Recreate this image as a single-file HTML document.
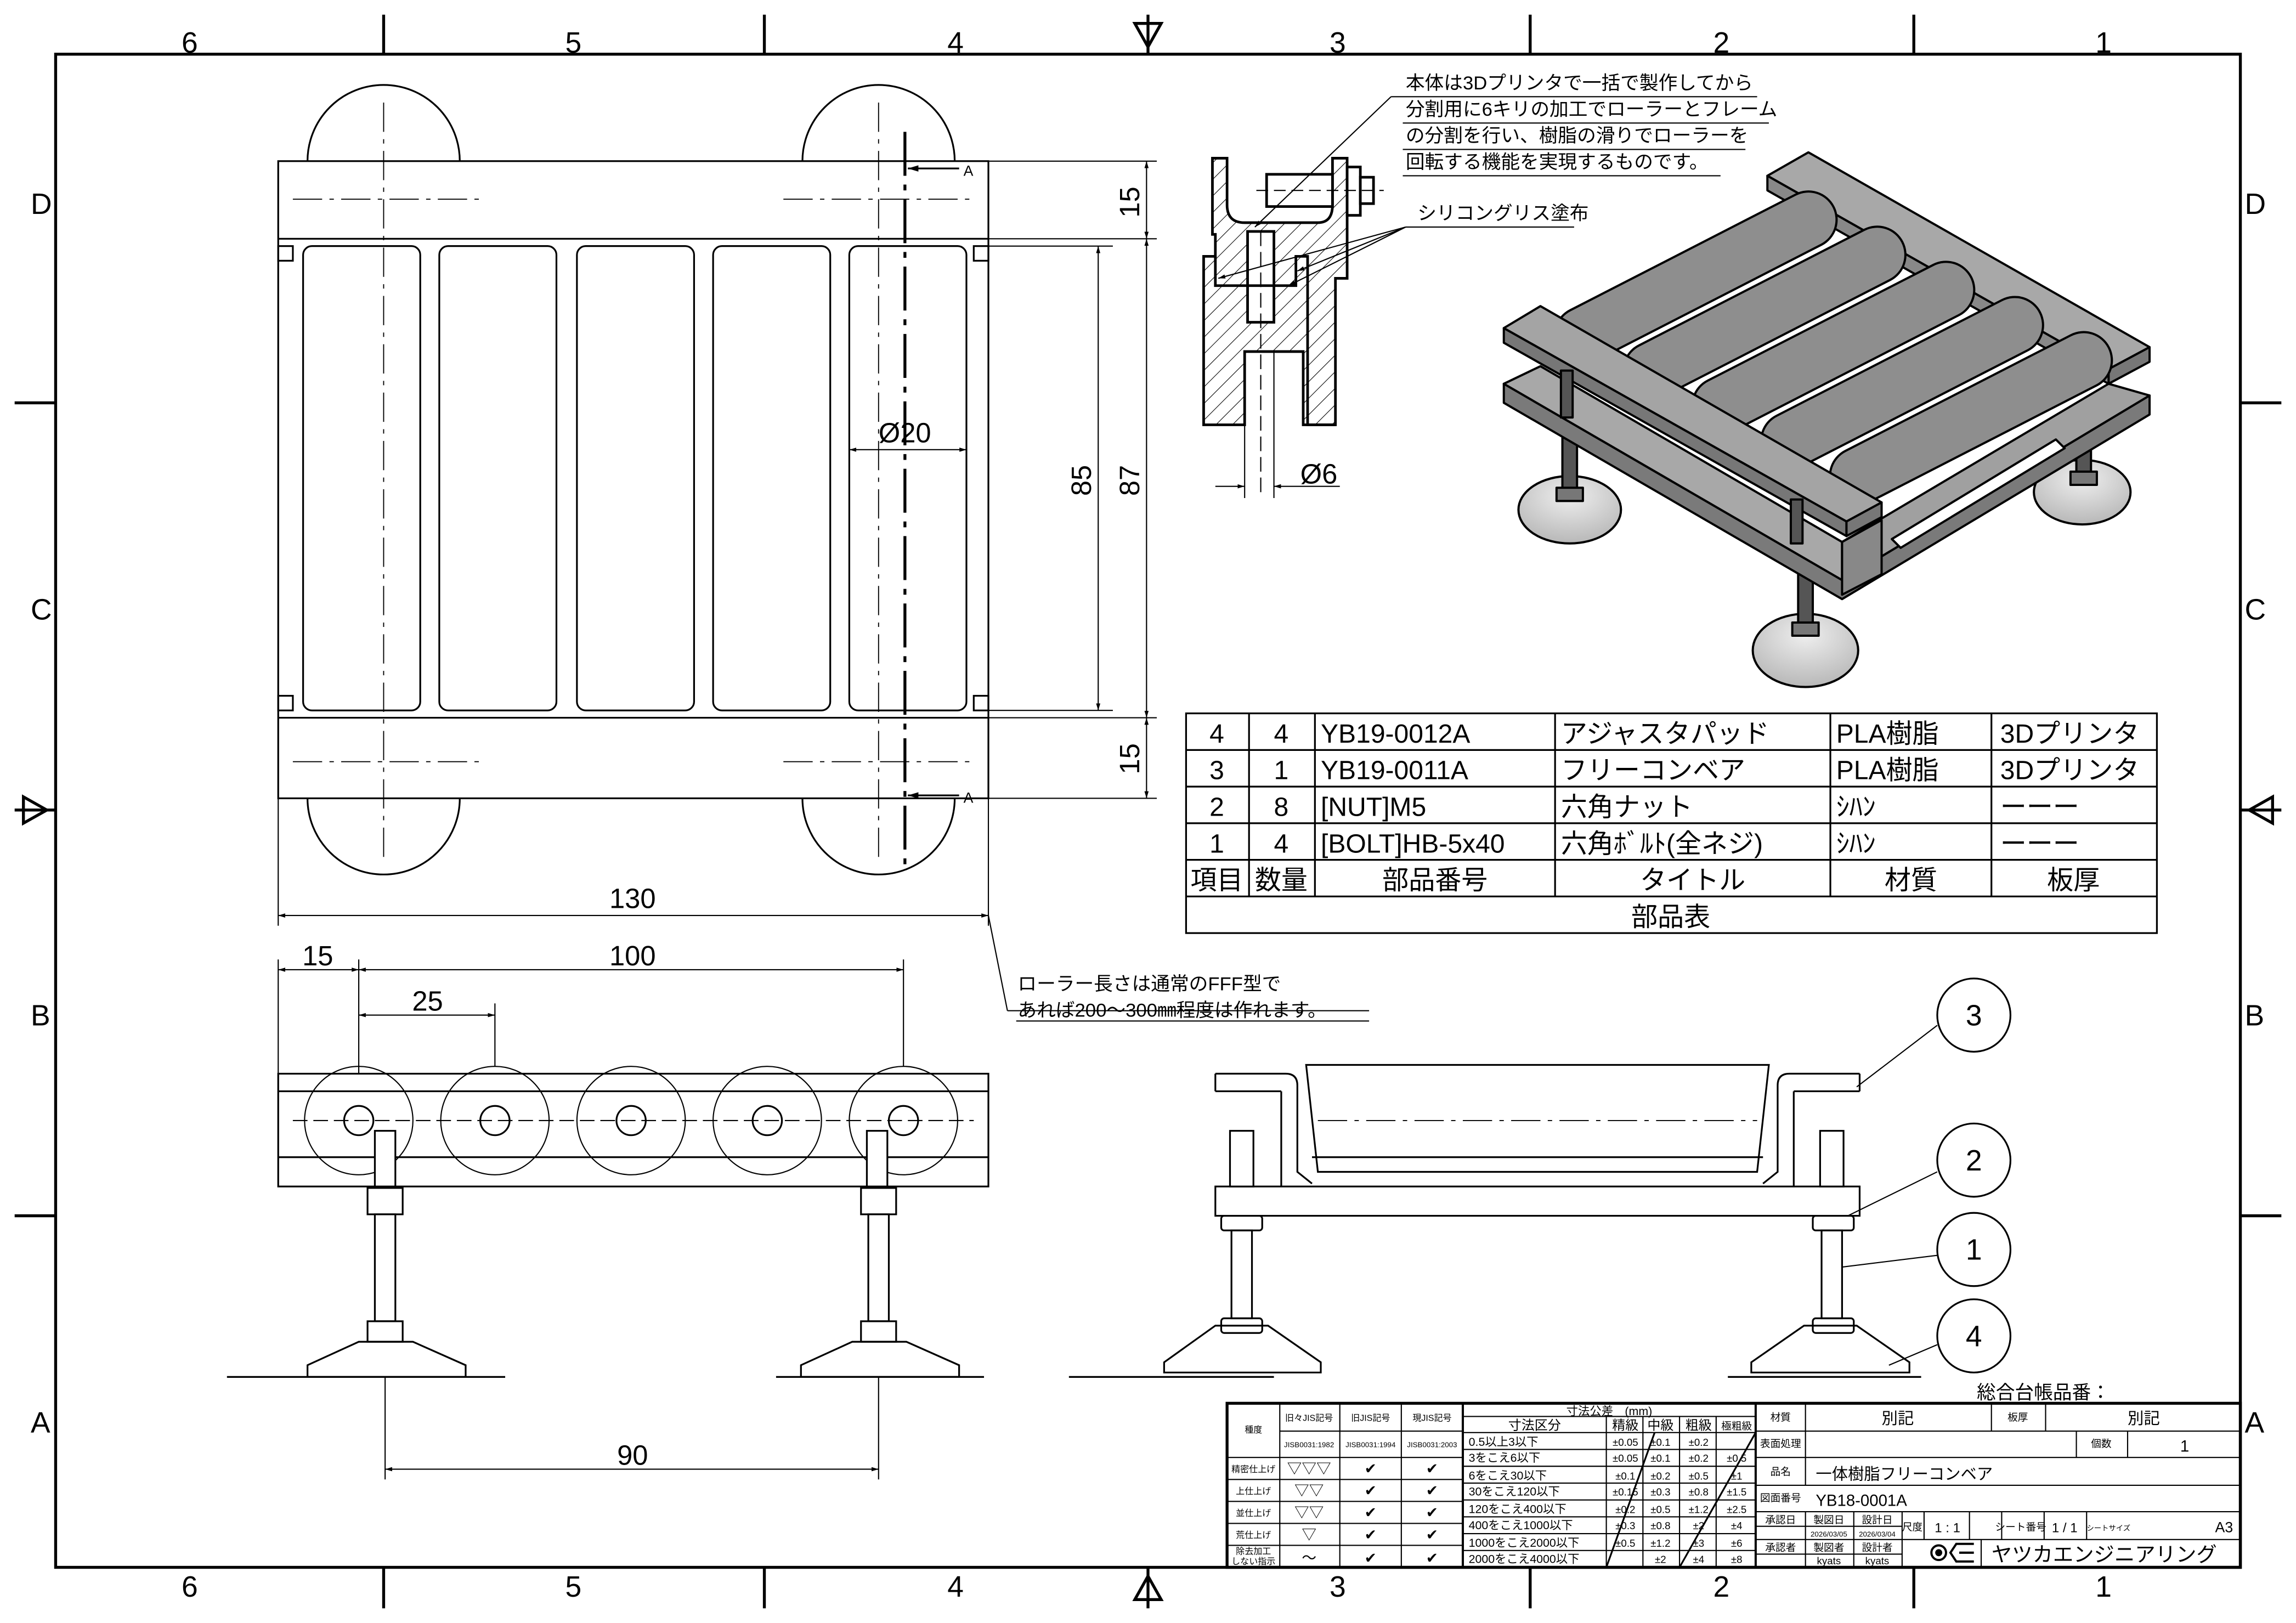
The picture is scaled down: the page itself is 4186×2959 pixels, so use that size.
<!DOCTYPE html>
<html><head><meta charset="utf-8"><style>
html,body{margin:0;padding:0;background:#fff}
svg{display:block}
text{font-family:"Liberation Sans","Noto Sans CJK JP",sans-serif;fill:#000}
</style></head><body>
<svg width="4186" height="2959" viewBox="0 0 1568 1108" preserveAspectRatio="none" xmlns="http://www.w3.org/2000/svg">
<defs>
<pattern id="h" width="8" height="8" patternUnits="userSpaceOnUse" patternTransform="rotate(45)"><line x1="0" y1="0" x2="0" y2="8" stroke="#000" stroke-width="0.8"/></pattern>
<marker id="ar" viewBox="0 0 10 10" refX="10" refY="5" markerWidth="6" markerHeight="6" orient="auto-start-reverse"><path d="M0,2 L10,5 L0,8z" fill="#000"/></marker>
<radialGradient id="ft" cx="0.5" cy="0.3" r="0.7"><stop offset="0" stop-color="#eee"/><stop offset="1" stop-color="#b8b8b8"/></radialGradient>
</defs>
<rect width="1568" height="1108" fill="#fff"/>
<!-- border -->
<rect x="38" y="37" width="1492" height="1033" fill="none" stroke="#000" stroke-width="2"/>
<g stroke="#000" stroke-width="2">
<line x1="262" y1="10" x2="262" y2="37"/><line x1="522" y1="10" x2="522" y2="37"/><line x1="1045" y1="10" x2="1045" y2="37"/><line x1="1307" y1="10" x2="1307" y2="37"/>
<line x1="262" y1="1070" x2="262" y2="1098"/><line x1="522" y1="1070" x2="522" y2="1098"/><line x1="1045" y1="1070" x2="1045" y2="1098"/><line x1="1307" y1="1070" x2="1307" y2="1098"/>
<line x1="10" y1="275" x2="38" y2="275"/><line x1="10" y1="830" x2="38" y2="830"/><line x1="1530" y1="275" x2="1558" y2="275"/><line x1="1530" y1="830" x2="1558" y2="830"/>
<line x1="784" y1="10" x2="784" y2="37"/><line x1="784" y1="1070" x2="784" y2="1098"/><line x1="10" y1="553" x2="38" y2="553"/><line x1="1530" y1="553" x2="1558" y2="553"/>
</g>
<g fill="none" stroke="#000" stroke-width="2">
<path d="M775,16 L793,16 L784,32z"/><path d="M775,1092 L793,1092 L784,1076z"/>
<path d="M16,544 L16,562 L32,553z"/><path d="M1552,544 L1552,562 L1536,553z"/>
</g>
<g font-size="20">
<text x="124" y="36">6</text><text x="386" y="36">5</text><text x="647" y="36">4</text><text x="908" y="36">3</text><text x="1170" y="36">2</text><text x="1431" y="36">1</text>
<text x="124" y="1090">6</text><text x="386" y="1090">5</text><text x="647" y="1090">4</text><text x="908" y="1090">3</text><text x="1170" y="1090">2</text><text x="1431" y="1090">1</text>
<text x="21" y="146">D</text><text x="21" y="423">C</text><text x="21" y="700">B</text><text x="21" y="978">A</text>
<text x="1533" y="146">D</text><text x="1533" y="423">C</text><text x="1533" y="700">B</text><text x="1533" y="978">A</text>
</g>

<!-- TOP VIEW -->
<g fill="none" stroke="#000" stroke-width="1.2">
<path d="M210,110 A52,52 0 0 1 314,110"/><path d="M548,110 A52,52 0 0 1 652,110"/>
<path d="M210,545 A52,52 0 0 0 314,545"/><path d="M548,545 A52,52 0 0 0 652,545"/>
<rect x="190" y="110" width="485" height="435"/>
<line x1="190" y1="163" x2="675" y2="163"/><line x1="190" y1="490" x2="675" y2="490"/>
<rect x="207" y="168" width="80" height="317" rx="6"/><rect x="300" y="168" width="80" height="317" rx="6"/><rect x="394" y="168" width="80" height="317" rx="6"/><rect x="487" y="168" width="80" height="317" rx="6"/><rect x="580" y="168" width="80" height="317" rx="6"/>
<rect x="190" y="168" width="10" height="10"/><rect x="665" y="168" width="10" height="10"/><rect x="190" y="475" width="10" height="10"/><rect x="665" y="475" width="10" height="10"/>
<g stroke-dasharray="20,5,3,5" stroke-width="0.7">
<line x1="200" y1="136" x2="330" y2="136"/><line x1="535" y1="136" x2="665" y2="136"/>
<line x1="200" y1="520" x2="330" y2="520"/><line x1="535" y1="520" x2="665" y2="520"/>
<line x1="262" y1="70" x2="262" y2="590"/><line x1="600" y1="70" x2="600" y2="590"/>
</g>
<line x1="618" y1="90" x2="618" y2="590" stroke-width="2" stroke-dasharray="30,6,4,6"/>
<line x1="620" y1="115" x2="655" y2="115" marker-start="url(#ar)"/><line x1="620" y1="543" x2="655" y2="543" marker-start="url(#ar)"/>
</g>
<text x="658" y="120" font-size="10">A</text><text x="658" y="548" font-size="10">A</text>
<!-- dims top view -->
<g stroke="#000" stroke-width="0.8" fill="none">
<line x1="675" y1="110" x2="790" y2="110"/><line x1="675" y1="163" x2="790" y2="163"/><line x1="675" y1="490" x2="790" y2="490"/><line x1="675" y1="545" x2="790" y2="545"/>
<line x1="665" y1="168" x2="760" y2="168"/><line x1="665" y1="485" x2="760" y2="485"/>
<line x1="783" y1="110" x2="783" y2="163" marker-start="url(#ar)" marker-end="url(#ar)"/>
<line x1="783" y1="163" x2="783" y2="490" marker-start="url(#ar)" marker-end="url(#ar)"/>
<line x1="783" y1="490" x2="783" y2="545" marker-start="url(#ar)" marker-end="url(#ar)"/>
<line x1="750" y1="168" x2="750" y2="485" marker-start="url(#ar)" marker-end="url(#ar)"/>
<line x1="190" y1="545" x2="190" y2="632"/><line x1="675" y1="545" x2="675" y2="632"/>
<line x1="190" y1="625" x2="675" y2="625" marker-start="url(#ar)" marker-end="url(#ar)"/>
<line x1="580" y1="307" x2="660" y2="307" marker-start="url(#ar)" marker-end="url(#ar)"/>
<line x1="675" y1="625" x2="688" y2="690"/><line x1="688" y1="690" x2="935" y2="690"/><line x1="694" y1="697" x2="935" y2="697"/>
</g>
<g font-size="19">
<text transform="translate(778,138) rotate(-90)" text-anchor="middle">15</text>
<text transform="translate(778,518) rotate(-90)" text-anchor="middle">15</text>
<text transform="translate(745,328) rotate(-90)" text-anchor="middle">85</text>
<text transform="translate(778,328) rotate(-90)" text-anchor="middle">87</text>
<text x="432" y="620" text-anchor="middle">130</text>
<text x="600" y="302">Ø20</text>
</g>
<text x="695" y="676" font-size="13">ローラー長さは通常のFFF型で</text>
<text x="695" y="694" font-size="13">あれば200～300㎜程度は作れます。</text>

<!-- FRONT VIEW -->
<g fill="none" stroke="#000" stroke-width="1.2">
<rect x="190" y="733" width="485" height="77"/><line x1="190" y1="745" x2="675" y2="745"/><line x1="190" y1="790" x2="675" y2="790"/>
<g stroke-width="0.8">
<circle cx="245" cy="765" r="37"/><circle cx="338" cy="765" r="37"/><circle cx="431" cy="765" r="37"/><circle cx="524" cy="765" r="37"/><circle cx="617" cy="765" r="37"/>
</g>
<circle cx="245" cy="765" r="10"/><circle cx="338" cy="765" r="10"/><circle cx="431" cy="765" r="10"/><circle cx="524" cy="765" r="10"/><circle cx="617" cy="765" r="10"/>
<line x1="200" y1="765" x2="665" y2="765" stroke-dasharray="10,4" stroke-width="0.8"/>
<rect x="256" y="772" width="14" height="38" fill="#fff"/><rect x="592" y="772" width="14" height="38" fill="#fff"/>
<rect x="251" y="811" width="24" height="18" /><rect x="588" y="811" width="24" height="18"/>
<rect x="256" y="829" width="14" height="73"/><rect x="593" y="829" width="14" height="73"/>
<rect x="251" y="902" width="24" height="14"/><rect x="588" y="902" width="24" height="14"/>
<path d="M210,932 L245,916 L282,916 L318,932 L318,940 L210,940z"/><path d="M547,932 L582,916 L619,916 L655,932 L655,940 L547,940z"/>
<line x1="155" y1="940" x2="345" y2="940"/><line x1="530" y1="940" x2="672" y2="940"/>
</g>
<g stroke="#000" stroke-width="0.8" fill="none">
<line x1="190" y1="655" x2="190" y2="733"/><line x1="245" y1="655" x2="245" y2="733"/><line x1="338" y1="685" x2="338" y2="728"/><line x1="617" y1="655" x2="617" y2="728"/>
<line x1="190" y1="662" x2="245" y2="662" marker-start="url(#ar)" marker-end="url(#ar)"/>
<line x1="245" y1="662" x2="617" y2="662" marker-start="url(#ar)" marker-end="url(#ar)"/>
<line x1="245" y1="693" x2="338" y2="693" marker-start="url(#ar)" marker-end="url(#ar)"/>
<line x1="263" y1="940" x2="263" y2="1010"/><line x1="600" y1="940" x2="600" y2="1010"/>
<line x1="263" y1="1003" x2="600" y2="1003" marker-start="url(#ar)" marker-end="url(#ar)"/>
</g>
<g font-size="19" text-anchor="middle">
<text x="217" y="659">15</text><text x="432" y="659">100</text><text x="292" y="690">25</text><text x="432" y="1000">90</text>
</g>

<!-- SECTION VIEW -->
<g stroke="#000" stroke-width="1.8">
<path d="M828,108 L838,108 L838,140 Q838,152 850,152 L900,152 Q910,152 910,140 L910,108 L920,108 L920,190 L912,190 L912,290 L890,290 L890,240 L850,240 L850,290 L822,290 L822,175 L830,175 L830,160 L828,160z" fill="url(#h)"/>
<rect x="852" y="158" width="18" height="62" fill="#fff"/>
<path d="M830,175 L830,195 L885,195 L885,175 L893,175 L893,290 L912,290" fill="none"/>
<rect x="865" y="119" width="45" height="22" fill="#fff"/>
<rect x="920" y="114" width="9" height="33" fill="#fff"/><rect x="929" y="121" width="9" height="18" fill="#fff"/>
</g>
<g stroke="#000" stroke-width="0.8" fill="none">
<line x1="858" y1="130" x2="945" y2="130" stroke-dasharray="8,4"/>
<line x1="861" y1="158" x2="861" y2="340" stroke-dasharray="10,4"/>
<line x1="850" y1="240" x2="850" y2="340"/><line x1="870" y1="240" x2="870" y2="340"/>
<line x1="830" y1="332" x2="850" y2="332" marker-end="url(#ar)"/><line x1="915" y1="332" x2="870" y2="332" marker-end="url(#ar)"/>
<line x1="950" y1="66" x2="1200" y2="66"/><line x1="950" y1="66" x2="857" y2="155" marker-end="url(#ar)"/>
<line x1="958" y1="84" x2="1208" y2="84"/><line x1="958" y1="102" x2="1192" y2="102"/><line x1="958" y1="120" x2="1175" y2="120"/>
<line x1="960" y1="155" x2="1075" y2="155"/>
<line x1="960" y1="155" x2="832" y2="190" marker-end="url(#ar)"/><line x1="960" y1="155" x2="886" y2="185" marker-end="url(#ar)"/><line x1="960" y1="155" x2="880" y2="195" marker-end="url(#ar)"/>
</g>
<text x="888" y="330" font-size="19">Ø6</text>
<g font-size="13"><text x="960" y="61">本体は3Dプリンタで一括で製作してから</text><text x="960" y="79">分割用に6キリの加工でローラーとフレーム</text><text x="960" y="97">の分割を行い、樹脂の滑りでローラーを</text><text x="960" y="115">回転する機能を実現するものです。</text><text x="968" y="150">シリコングリス塗布</text></g>

<!-- ISO VIEW -->
<g stroke="#000" stroke-width="1.5" stroke-linejoin="round">
<!-- feet -->
<ellipse cx="1422" cy="336" rx="33" ry="22" fill="url(#ft)"/>
<ellipse cx="1072" cy="348" rx="35" ry="23" fill="url(#ft)"/>
<ellipse cx="1233" cy="444" rx="36" ry="25" fill="url(#ft)"/>
<rect x="1067" y="290" width="10" height="50" fill="#555"/><rect x="1228" y="360" width="10" height="72" fill="#555"/><rect x="1418" y="300" width="10" height="30" fill="#555"/>
<rect x="1063" y="333" width="18" height="9" fill="#777"/><rect x="1224" y="425" width="18" height="9" fill="#777"/><rect x="1414" y="322" width="18" height="9" fill="#777"/>
<!-- lower plate -->
<path d="M1027,262 L1258,396 L1468,270 L1468,283 L1258,409 L1027,275z" fill="#7a7a7a"/>
<path d="M1027,262 L1052,250 L1258,370 L1258,396z" fill="#a8a8a8"/>
<path d="M1258,396 L1258,370 L1440,262 L1468,270z" fill="#a0a0a0"/>
<path d="M1258,370 L1285,355 L1285,392 L1258,406z" fill="#888"/>
<path d="M1292,368 L1404,300 L1410,306 L1298,374z" fill="#fff"/>
<!-- far bar -->
<path d="M1207,120 L1235,104 L1468,237 L1440,252z" fill="#a8a8a8"/>
<path d="M1440,252 L1468,237 L1468,247 L1440,262z" fill="#777"/>
<path d="M1207,120 L1440,252 L1440,262 L1207,130z" fill="#888"/>
<!-- rollers -->
<g fill="none" stroke-linecap="round">
<line x1="1081" y1="229" x2="1235" y2="150" stroke="#000" stroke-width="40"/><line x1="1081" y1="229" x2="1235" y2="150" stroke="#8e8e8e" stroke-width="37"/>
<line x1="1128" y1="253" x2="1282" y2="174" stroke="#000" stroke-width="40"/><line x1="1128" y1="253" x2="1282" y2="174" stroke="#8e8e8e" stroke-width="37"/>
<line x1="1175" y1="277" x2="1329" y2="198" stroke="#000" stroke-width="40"/><line x1="1175" y1="277" x2="1329" y2="198" stroke="#8e8e8e" stroke-width="37"/>
<line x1="1222" y1="301" x2="1376" y2="222" stroke="#000" stroke-width="40"/><line x1="1222" y1="301" x2="1376" y2="222" stroke="#8e8e8e" stroke-width="37"/>
<line x1="1269" y1="325" x2="1423" y2="246" stroke="#000" stroke-width="40"/><line x1="1269" y1="325" x2="1423" y2="246" stroke="#8e8e8e" stroke-width="37"/>
</g>
<!-- near bar -->
<path d="M1027,224 L1052,209 L1285,343 L1261,356z" fill="#a4a4a4"/>
<path d="M1027,224 L1261,356 L1261,366 L1027,234z" fill="#777"/>
<path d="M1261,356 L1285,343 L1285,353 L1261,366z" fill="#777"/>
<rect x="1066" y="253" width="8" height="32" fill="#555"/><rect x="1223" y="341" width="8" height="30" fill="#555"/>
</g>

<!-- PARTS TABLE -->
<g stroke="#000" stroke-width="1.2" fill="none">
<rect x="810" y="487" width="663" height="150"/>
<line x1="810" y1="512" x2="1473" y2="512"/><line x1="810" y1="537" x2="1473" y2="537"/><line x1="810" y1="562" x2="1473" y2="562"/><line x1="810" y1="587" x2="1473" y2="587"/><line x1="810" y1="612" x2="1473" y2="612"/>
<line x1="853" y1="487" x2="853" y2="612"/><line x1="898" y1="487" x2="898" y2="612"/><line x1="1062" y1="487" x2="1062" y2="612"/><line x1="1250" y1="487" x2="1250" y2="612"/><line x1="1360" y1="487" x2="1360" y2="612"/>
</g>
<g font-size="18">
<text x="831" y="507" text-anchor="middle">4</text><text x="875" y="507" text-anchor="middle">4</text><text x="902" y="507">YB19-0012A</text><text x="1066" y="507">アジャスタパッド</text><text x="1254" y="507">PLA樹脂</text><text x="1366" y="507">3Dプリンタ</text>
<text x="831" y="532" text-anchor="middle">3</text><text x="875" y="532" text-anchor="middle">1</text><text x="902" y="532">YB19-0011A</text><text x="1066" y="532">フリーコンベア</text><text x="1254" y="532">PLA樹脂</text><text x="1366" y="532">3Dプリンタ</text>
<text x="831" y="557" text-anchor="middle">2</text><text x="875" y="557" text-anchor="middle">8</text><text x="902" y="557">[NUT]M5</text><text x="1066" y="557">六角ナット</text><text x="1254" y="557">ｼﾊﾝ</text><text x="1366" y="557">ーーー</text>
<text x="831" y="582" text-anchor="middle">1</text><text x="875" y="582" text-anchor="middle">4</text><text x="902" y="582">[BOLT]HB-5x40</text><text x="1066" y="582">六角ﾎﾞﾙﾄ(全ネジ)</text><text x="1254" y="582">ｼﾊﾝ</text><text x="1366" y="582">ーーー</text>
<text x="831" y="607" text-anchor="middle">項目</text><text x="875" y="607" text-anchor="middle">数量</text><text x="980" y="607" text-anchor="middle">部品番号</text><text x="1156" y="607" text-anchor="middle">タイトル</text><text x="1305" y="607" text-anchor="middle">材質</text><text x="1416" y="607" text-anchor="middle">板厚</text>
<text x="1141" y="632" text-anchor="middle">部品表</text>
</g>

<!-- SIDE VIEW -->
<g fill="none" stroke="#000" stroke-width="1.2">
<path d="M892,727 L1208,727 L1200,800 L900,800z"/><line x1="896" y1="790" x2="1204" y2="790"/>
<path d="M830,733 L878,733 Q886,733 886,741 L886,800 L896,808"/>
<line x1="830" y1="733" x2="830" y2="745"/><line x1="830" y1="745" x2="875" y2="745"/><line x1="875" y1="745" x2="875" y2="810"/>
<path d="M1270,733 L1222,733 Q1214,733 1214,741 L1214,800 L1204,808"/>
<line x1="1270" y1="733" x2="1270" y2="745"/><line x1="1270" y1="745" x2="1225" y2="745"/><line x1="1225" y1="745" x2="1225" y2="810"/>
<rect x="830" y="810" width="440" height="20"/>
<rect x="840" y="772" width="16" height="38" fill="#fff"/><rect x="1243" y="772" width="16" height="38" fill="#fff"/>
<rect x="834" y="830" width="28" height="10" rx="2"/><rect x="1238" y="830" width="28" height="10" rx="2"/>
<rect x="841" y="840" width="14" height="60"/><rect x="1244" y="840" width="14" height="60"/>
<rect x="834" y="900" width="28" height="10" rx="2"/><rect x="1238" y="900" width="28" height="10" rx="2"/>
<path d="M795,930 L830,905 L866,905 L902,930 L902,937 L795,937z"/><path d="M1196,930 L1232,905 L1268,905 L1304,930 L1304,937 L1196,937z"/>
<line x1="730" y1="940" x2="870" y2="940"/><line x1="1180" y1="940" x2="1312" y2="940"/>
<line x1="900" y1="765" x2="1200" y2="765" stroke-dasharray="20,5,3,5" stroke-width="0.7"/>
<circle cx="1348" cy="693" r="25"/><circle cx="1348" cy="792" r="25"/><circle cx="1348" cy="853" r="25"/><circle cx="1348" cy="912" r="25"/>
<line x1="1323" y1="700" x2="1268" y2="742" stroke-width="0.8"/><line x1="1323" y1="800" x2="1262" y2="830" stroke-width="0.8"/><line x1="1323" y1="857" x2="1258" y2="865" stroke-width="0.8"/><line x1="1323" y1="918" x2="1290" y2="932" stroke-width="0.8"/>
</g>
<g font-size="20" text-anchor="middle"><text x="1348" y="700">3</text><text x="1348" y="799">2</text><text x="1348" y="860">1</text><text x="1348" y="919">4</text></g>
<text x="1350" y="955" font-size="13">総合台帳品番：</text>

<!-- TITLE BLOCK -->
<g stroke="#000" fill="none" stroke-width="0.8">
<rect x="838" y="958" width="692" height="112" stroke-width="2"/>
<line x1="999" y1="958" x2="999" y2="1070" stroke-width="1.5"/><line x1="1199" y1="958" x2="1199" y2="1070" stroke-width="1.5"/>
<line x1="874" y1="958" x2="874" y2="1070"/><line x1="915" y1="958" x2="915" y2="1070"/><line x1="957" y1="958" x2="957" y2="1070"/>
<line x1="874" y1="977" x2="999" y2="977"/><line x1="838" y1="995" x2="999" y2="995"/><line x1="838" y1="1010" x2="999" y2="1010"/><line x1="838" y1="1025" x2="999" y2="1025"/><line x1="838" y1="1040" x2="999" y2="1040"/><line x1="838" y1="1055" x2="999" y2="1055"/>
<line x1="999" y1="967" x2="1199" y2="967"/><line x1="999" y1="978" x2="1199" y2="978"/>
<line x1="999" y1="989.5" x2="1199" y2="989.5"/><line x1="999" y1="1001" x2="1199" y2="1001"/><line x1="999" y1="1012.5" x2="1199" y2="1012.5"/><line x1="999" y1="1024" x2="1199" y2="1024"/><line x1="999" y1="1035.5" x2="1199" y2="1035.5"/><line x1="999" y1="1047" x2="1199" y2="1047"/><line x1="999" y1="1058.5" x2="1199" y2="1058.5"/>
<line x1="1097" y1="967" x2="1097" y2="1070"/><line x1="1122" y1="967" x2="1122" y2="1070"/><line x1="1147" y1="967" x2="1147" y2="1070"/><line x1="1172" y1="967" x2="1172" y2="1070"/>
<line x1="1097" y1="1070" x2="1130" y2="978" stroke-width="1.2"/><line x1="1147" y1="1070" x2="1199" y2="978" stroke-width="1.2"/>
<line x1="1199" y1="977" x2="1530" y2="977"/><line x1="1199" y1="995" x2="1530" y2="995"/><line x1="1199" y1="1014" x2="1530" y2="1014"/><line x1="1199" y1="1032" x2="1530" y2="1032"/><line x1="1199" y1="1051" x2="1530" y2="1051"/>
<line x1="1233" y1="958" x2="1233" y2="1014"/><line x1="1360" y1="958" x2="1360" y2="977"/><line x1="1397" y1="958" x2="1397" y2="977"/>
<line x1="1418" y1="977" x2="1418" y2="995"/><line x1="1453" y1="977" x2="1453" y2="995"/>
<line x1="1233" y1="1032" x2="1233" y2="1070"/><line x1="1266" y1="1032" x2="1266" y2="1070"/><line x1="1299" y1="1032" x2="1299" y2="1070"/><line x1="1199" y1="1042" x2="1299" y2="1042"/><line x1="1199" y1="1061" x2="1299" y2="1061"/>
<line x1="1314" y1="1032" x2="1314" y2="1051"/><line x1="1345" y1="1032" x2="1345" y2="1051"/><line x1="1367" y1="1032" x2="1367" y2="1051"/><line x1="1396" y1="1032" x2="1396" y2="1051"/><line x1="1425" y1="1032" x2="1425" y2="1051"/><line x1="1353" y1="1051" x2="1353" y2="1070"/>
<circle cx="1324" cy="1060" r="5" stroke-width="1.5"/><circle cx="1324" cy="1060" r="2" fill="#000"/>
<path d="M1348,1054 L1336,1054 L1332,1060 L1336,1066 L1348,1066 M1348,1060 L1338,1060" stroke-width="1.5"/>
</g>
<g font-size="6">
<text x="856" y="978" text-anchor="middle">種度</text>
<text x="894" y="970" text-anchor="middle">旧々JIS記号</text><text x="936" y="970" text-anchor="middle">旧JIS記号</text><text x="978" y="970" text-anchor="middle">現JIS記号</text>
<text x="894" y="988" text-anchor="middle" font-size="5">JISB0031:1982</text><text x="936" y="988" text-anchor="middle" font-size="5">JISB0031:1994</text><text x="978" y="988" text-anchor="middle" font-size="5">JISB0031:2003</text>
<text x="856" y="1005" text-anchor="middle">精密仕上げ</text><text x="856" y="1020" text-anchor="middle">上仕上げ</text><text x="856" y="1035" text-anchor="middle">並仕上げ</text><text x="856" y="1050" text-anchor="middle">荒仕上げ</text><text x="856" y="1061" text-anchor="middle">除去加工</text><text x="856" y="1068" text-anchor="middle">しない指示</text>
</g>
<g font-size="10" text-anchor="middle">
<text x="894" y="1006">▽▽▽</text><text x="894" y="1021">▽▽</text><text x="894" y="1036">▽▽</text><text x="894" y="1051">▽</text><text x="894" y="1067">～</text>
<text x="936" y="1006">✔</text><text x="936" y="1021">✔</text><text x="936" y="1036">✔</text><text x="936" y="1051">✔</text><text x="936" y="1067">✔</text>
<text x="978" y="1006">✔</text><text x="978" y="1021">✔</text><text x="978" y="1036">✔</text><text x="978" y="1051">✔</text><text x="978" y="1067">✔</text>
</g>
<g font-size="8">
<text x="1099" y="966" text-anchor="middle">寸法公差　(mm)</text>
<text x="1048" y="976" text-anchor="middle" font-size="9">寸法区分</text><text x="1110" y="976" text-anchor="middle" font-size="9">精級</text><text x="1134" y="976" text-anchor="middle" font-size="9">中級</text><text x="1160" y="976" text-anchor="middle" font-size="9">粗級</text><text x="1186" y="976" text-anchor="middle" font-size="7">極粗級</text>
<text x="1003" y="987">0.5以上3以下</text><text x="1003" y="998">3をこえ6以下</text><text x="1003" y="1010">6をこえ30以下</text><text x="1003" y="1021">30をこえ120以下</text><text x="1003" y="1033">120をこえ400以下</text><text x="1003" y="1044">400をこえ1000以下</text><text x="1003" y="1056">1000をこえ2000以下</text><text x="1003" y="1067">2000をこえ4000以下</text>
</g>
<g font-size="7" text-anchor="middle">
<text x="1110" y="987">±0.05</text><text x="1134" y="987">±0.1</text><text x="1160" y="987">±0.2</text>
<text x="1110" y="998">±0.05</text><text x="1134" y="998">±0.1</text><text x="1160" y="998">±0.2</text><text x="1186" y="998">±0.5</text>
<text x="1110" y="1010">±0.1</text><text x="1134" y="1010">±0.2</text><text x="1160" y="1010">±0.5</text><text x="1186" y="1010">±1</text>
<text x="1110" y="1021">±0.15</text><text x="1134" y="1021">±0.3</text><text x="1160" y="1021">±0.8</text><text x="1186" y="1021">±1.5</text>
<text x="1110" y="1033">±0.2</text><text x="1134" y="1033">±0.5</text><text x="1160" y="1033">±1.2</text><text x="1186" y="1033">±2.5</text>
<text x="1110" y="1044">±0.3</text><text x="1134" y="1044">±0.8</text><text x="1160" y="1044">±2</text><text x="1186" y="1044">±4</text>
<text x="1110" y="1056">±0.5</text><text x="1134" y="1056">±1.2</text><text x="1160" y="1056">±3</text><text x="1186" y="1056">±6</text>
<text x="1134" y="1067">±2</text><text x="1160" y="1067">±4</text><text x="1186" y="1067">±8</text>
</g>
<g font-size="7">
<text x="1216" y="970" text-anchor="middle">材質</text><text x="1216" y="988" text-anchor="middle">表面処理</text><text x="1216" y="1007" text-anchor="middle">品名</text><text x="1216" y="1025" text-anchor="middle">図面番号</text>
<text x="1378" y="970" text-anchor="middle">板厚</text><text x="1435" y="988" text-anchor="middle">個数</text>
<text x="1216" y="1040" text-anchor="middle">承認日</text><text x="1249" y="1040" text-anchor="middle">製図日</text><text x="1282" y="1040" text-anchor="middle">設計日</text>
<text x="1249" y="1049" text-anchor="middle" font-size="5">2026/03/05</text><text x="1282" y="1049" text-anchor="middle" font-size="5">2026/03/04</text>
<text x="1216" y="1059" text-anchor="middle">承認者</text><text x="1249" y="1059" text-anchor="middle">製図者</text><text x="1282" y="1059" text-anchor="middle">設計者</text>
<text x="1249" y="1068" text-anchor="middle">kyats</text><text x="1282" y="1068" text-anchor="middle">kyats</text>
<text x="1306" y="1045" text-anchor="middle">尺度</text><text x="1380" y="1045" text-anchor="middle">シート番号</text><text x="1440" y="1045" text-anchor="middle" font-size="5">シートサイズ</text>
</g>
<g font-size="11">
<text x="1296" y="972" text-anchor="middle">別記</text><text x="1464" y="972" text-anchor="middle">別記</text><text x="1492" y="991" text-anchor="middle">1</text>
<text x="1240" y="1010">一体樹脂フリーコンベア</text><text x="1240" y="1028">YB18-0001A</text>
<text x="1330" y="1046" text-anchor="middle" font-size="9">1 : 1</text><text x="1410" y="1046" text-anchor="middle" font-size="9">1 / 1</text><text x="1525" y="1046" text-anchor="end" font-size="10">A3</text>
<text x="1360" y="1066" font-size="14">ヤツカエンジニアリング</text>
</g>
</svg>
</body></html>
